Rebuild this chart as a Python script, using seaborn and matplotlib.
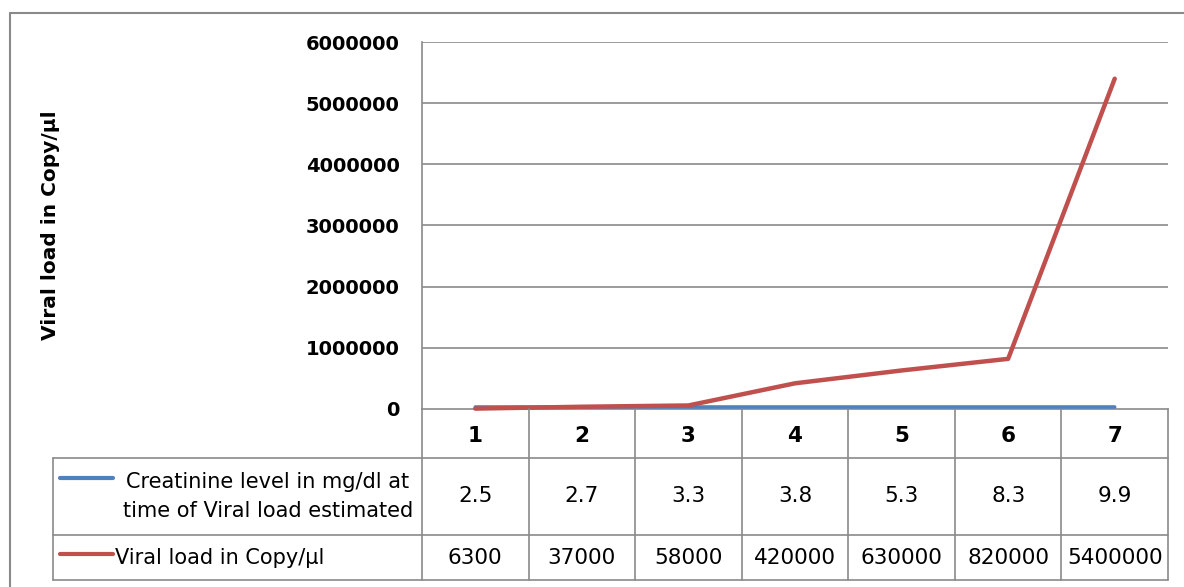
import numpy as np
import pandas as pd
import matplotlib.pyplot as plt
import seaborn as sns

sns.set_style("white")
plt.rcParams['font.family'] = ['DejaVu Sans']
plt.rcParams['text.color'] = 'black'
plt.rcParams['ytick.color'] = 'black'
plt.rcParams['axes.labelcolor'] = 'black'

samples = ["1", "2", "3", "4", "5", "6", "7"]
creatinine = [2.5, 2.7, 3.3, 3.8, 5.3, 8.3, 9.9]
viral_load = [6300, 37000, 58000, 420000, 630000, 820000, 5400000]
creat_label = "Creatinine level in mg/dl at\ntime of Viral load estimated"
viral_label = "Viral load in Copy/µl"
yticks = [0, 1000000, 2000000, 3000000, 4000000, 5000000, 6000000]

blue = "#4F81BD"
red = "#C0504D"
grid_col = "#8a8a8a"

pos = list(range(len(samples)))
df_c = pd.DataFrame({"pos": pos, "value": creatinine})
df_v = pd.DataFrame({"pos": pos, "value": viral_load})

W, H = 1184, 587
fig = plt.figure(figsize=(W / 100, H / 100), dpi=100)

# plot area in pixels
left, right, top, zero = 422, 1168, 42, 409
ax = fig.add_axes([left / W, 1 - zero / H, (right - left) / W, (zero - top) / H])

sns.lineplot(data=df_c, x="pos", y="value", color=blue, linewidth=2.6, ax=ax)
sns.lineplot(data=df_v, x="pos", y="value", color=red, linewidth=3.2, ax=ax)
for z, ln in zip([4, 5], ax.lines):
    ln.set_clip_on(False)
    ln.set_zorder(z)
# keep the flat blue line just visible above the axis line
ax.lines[0].set_transform(ax.lines[0].get_transform() +
                          plt.matplotlib.transforms.Affine2D().translate(0, 2))

ax.set_xlim(-0.5, len(samples) - 0.5)
ax.set_ylim(0, 6000000)
ax.set_yticks(yticks)
ax.set_yticklabels([str(t) for t in yticks], fontsize=14, fontweight="bold")
ax.tick_params(axis="y", length=0, pad=16)
ax.set_xticks([])
ax.set_xlabel("")
ax.set_ylabel("Viral load in Copy/µl", fontsize=14.5, fontweight="bold")
ax.yaxis.set_label_coords((60 - left) / (right - left), 0.5)
for t in yticks[1:]:
    ax.axhline(t, color=grid_col, lw=1.2, zorder=0)
for s in ["top", "right"]:
    ax.spines[s].set_visible(False)
for s in ["left", "bottom"]:
    ax.spines[s].set_color(grid_col)
    ax.spines[s].set_linewidth(1.2)

# overlay in pixel coords for data table and chart border
ov = fig.add_axes([0, 0, 1, 1], facecolor="none")
ov.set_xlim(0, W)
ov.set_ylim(H, 0)
ov.axis("off")

# outer chart border
ov.plot([10, W], [13, 13], color=grid_col, lw=1.5)
ov.plot([10, 10], [13, H], color=grid_col, lw=1.5)

edges = np.linspace(left, right, len(samples) + 1)
centers = (edges[:-1] + edges[1:]) / 2
row_y = [zero, 458, 535, 580]
lab_left = 53

ov.plot([lab_left, right], [row_y[1]] * 2, color=grid_col, lw=1.2)
ov.plot([lab_left, right], [row_y[2]] * 2, color=grid_col, lw=1.2)
ov.plot([lab_left, right], [row_y[3]] * 2, color=grid_col, lw=1.2)
ov.plot([lab_left, lab_left], [row_y[1], row_y[3]], color=grid_col, lw=1.2)
for e in edges:
    ov.plot([e, e], [row_y[0], row_y[3]], color=grid_col, lw=1.2)

for c, s, cr, vl in zip(centers, samples, creatinine, viral_load):
    ov.text(c, (row_y[0] + row_y[1]) / 2 + 2, s, ha="center", va="center",
            fontsize=15.5, fontweight="bold")
    ov.text(c, (row_y[1] + row_y[2]) / 2, f"{cr}", ha="center", va="center", fontsize=15.5)
    ov.text(c, (row_y[2] + row_y[3]) / 2, f"{vl}", ha="center", va="center", fontsize=15.5)

# row labels with legend keys
ov.plot([60, 113], [478, 478], color=blue, lw=3)
ov.text(268, (row_y[1] + row_y[2]) / 2, creat_label, ha="center", va="center",
        fontsize=15, linespacing=1.55)
ov.plot([60, 113], [554, 554], color=red, lw=3)
ov.text(115, (row_y[2] + row_y[3]) / 2, viral_label, ha="left", va="center", fontsize=15)

fig.savefig("out.png", dpi=100)
